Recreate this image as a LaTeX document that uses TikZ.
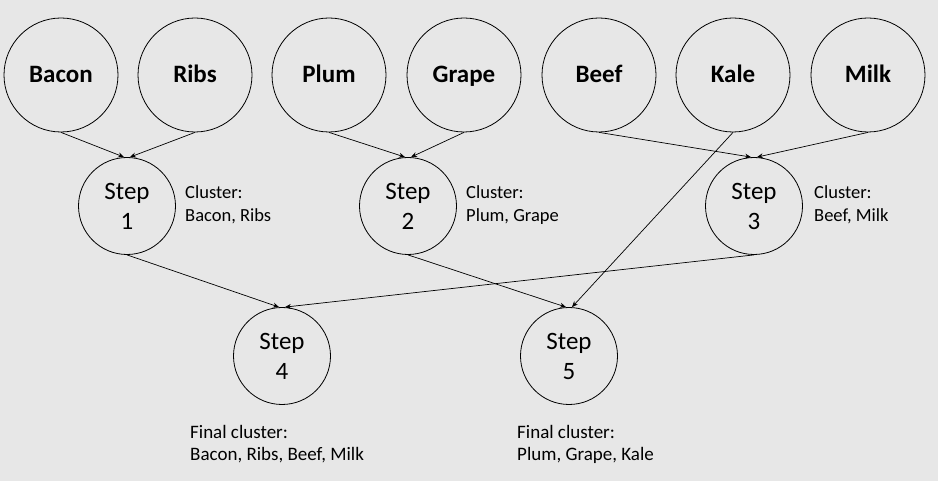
\documentclass[tikz,border=0pt]{standalone}
\usepackage{fontspec}
\setmainfont{Carlito}
\usetikzlibrary{arrows.meta}
\definecolor{bg}{RGB}{231,231,231}
\begin{document}
\begin{tikzpicture}[x=1pt,y=-1pt,
  item/.style={circle,draw,line width=0.8pt,minimum size=114pt,inner sep=0pt,text height=16pt,text depth=0pt,font=\fontsize{25}{29}\selectfont\bfseries},
  stepnode/.style={circle,draw,line width=0.8pt,minimum size=97pt,inner sep=0pt,align=center,font=\fontsize{25}{30}\selectfont},
  lbl/.style={anchor=west,align=left,inner sep=0pt,font=\fontsize{18.5}{23}\selectfont},
  flbl/.style={anchor=west,align=left,inner sep=0pt,font=\fontsize{19}{22}\selectfont},
  conn/.style={line width=0.7pt,-{Stealth[length=6pt,width=5pt]}}]
\fill[bg] (0,0) rectangle (938,481);
\useasboundingbox (0,0) rectangle (938,481);
\node[item] (bacon) at (61,75) {Bacon};
\node[item] (ribs) at (195,75) {Ribs};
\node[item] (plum) at (329,75) {Plum};
\node[item] (grape) at (464,75) {Grape};
\node[item] (beef) at (599,75) {Beef};
\node[item] (kale) at (733,75) {Kale};
\node[item] (milk) at (868,75) {Milk};
\node[stepnode] (s1) at (127,206) {Step\\1};
\node[stepnode] (s2) at (408,206) {Step\\2};
\node[stepnode] (s3) at (754,206) {Step\\3};
\node[stepnode] (s4) at (282,356) {Step\\4};
\node[stepnode] (s5) at (569,356) {Step\\5};
\node[lbl] (c1) at (185,205) {Cluster:\\Bacon, Ribs};
\node[lbl] (c2) at (466,205) {Cluster:\\Plum, Grape};
\node[lbl] (c3) at (814,205) {Cluster:\\Beef, Milk};
\node[flbl] (f4) at (190,444) {Final cluster:\\Bacon, Ribs, Beef, Milk};
\node[flbl] (f5) at (517,444) {Final cluster:\\Plum, Grape, Kale};
\draw[conn] (bacon.south) -- ([xshift=-3pt]s1.north);
\draw[conn] (ribs.south) -- ([xshift=3pt]s1.north);
\draw[conn] (plum.south) -- ([xshift=-3pt]s2.north);
\draw[conn] (grape.south) -- ([xshift=3pt]s2.north);
\draw[conn] (beef.south) -- ([xshift=-3pt]s3.north);
\draw[conn] (milk.south) -- ([xshift=3pt]s3.north);
\draw[conn] (s1.south) -- ([xshift=-3pt]s4.north);
\draw[conn] (s3.south) -- ([xshift=3pt]s4.north);
\draw[conn] (s2.south) -- ([xshift=-3pt]s5.north);
\draw[conn] (kale.south) -- ([xshift=3pt]s5.north);
\end{tikzpicture}
\end{document}
